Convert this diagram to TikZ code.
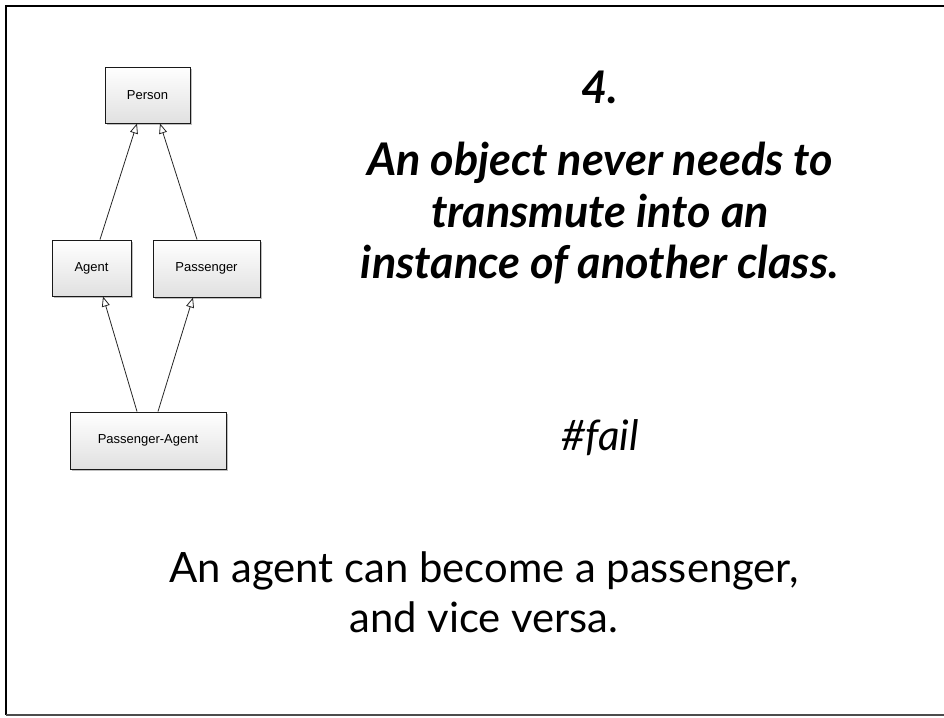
\documentclass[tikz,border=0pt]{standalone}
\usepackage{fontspec}
\setmainfont{Lato}
\newfontfamily\handfont{Liberation Sans}
\usetikzlibrary{arrows.meta,shadows,calc}

\begin{document}
\begin{tikzpicture}[x=1pt,y=-1pt,
  classbox/.style={draw=black!90, line width=1pt, top color=white,
    bottom color=black!12, minimum height=56pt, inner sep=0pt,
    font=\handfont\fontsize{13}{15}\selectfont,
    drop shadow={shadow xshift=2pt, shadow yshift=-2pt, opacity=0.25, fill=black}},
  inherit/.style={draw=black!85, line width=0.8pt,
    -{Triangle[open, length=10pt, width=8pt]}},
  headline/.style={anchor=base, font=\bfseries\itshape\fontsize{45}{52}\selectfont},
  bodyline/.style={anchor=base, font=\fontsize{41.8}{50}\selectfont},
]
\useasboundingbox (0,0) rectangle (944,717);

% slide frame
\draw[black, line width=1.2pt] (944,6) -- (6,6) -- (6,715);
\draw[black!70, line width=1.6pt] (6,715) -- (944,715);

% class hierarchy
\node[classbox, minimum width=85pt] (person) at (147.5,95) {Person};
\node[classbox, minimum width=79pt] (agent) at (91.5,268) {Agent};
\node[classbox, minimum width=107pt, minimum height=57pt] (passenger) at (206.5,268.5) {Passenger};
\node[classbox, minimum width=156pt, minimum height=57pt] (pa) at (148,440.5) {Passenger-Agent};

\draw[inherit] ([xshift=8.5pt]agent.north) -- ([xshift=-10.5pt]person.south);
\draw[inherit] ([xshift=-9.5pt]passenger.north) -- ([xshift=12.5pt]person.south);
\draw[inherit] ([xshift=-11pt]pa.north) -- ([xshift=11.5pt]agent.south);
\draw[inherit] ([xshift=10pt]pa.north) -- ([xshift=-13.5pt]passenger.south);

% headline
\node[headline] (num) at (600,103) {4.};
\node[headline] (head1) at (600,175) {An object never needs to};
\node[headline] (head2) at (600,227) {transmute into an};
\node[headline] (head3) at (600,278) {instance of another class.};

\node[anchor=base, font=\itshape\fontsize{42}{48}\selectfont] (fail) at (600,450) {\#fail};

% body
\node[bodyline] (body1) at (484,582) {An agent can become a passenger,};
\node[bodyline] (body2) at (484,632) {and vice versa.};
\end{tikzpicture}
\end{document}
